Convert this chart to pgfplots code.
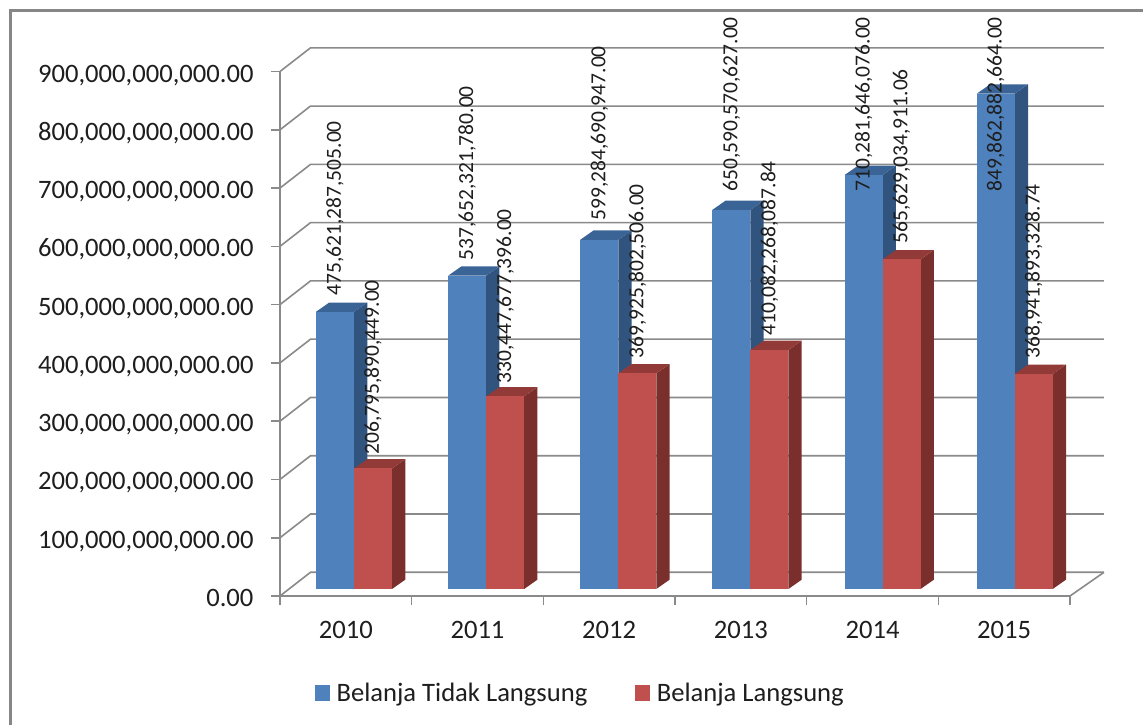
\documentclass[border=0pt]{standalone}
\usepackage{fontspec}
\setmainfont{Carlito}
\usepackage{pgfplots}
\usepackage{pgfplotstable}
\pgfplotsset{compat=1.18}

\definecolor{rulegray}{HTML}{8A8A8A}
\definecolor{framegray}{HTML}{868686}
\definecolor{blueF}{HTML}{4F81BD}
\definecolor{blueS}{HTML}{31547F}
\definecolor{blueT}{HTML}{3A6396}
\definecolor{redF}{HTML}{C0504D}
\definecolor{redS}{HTML}{7A2F2D}
\definecolor{redT}{HTML}{923A38}
\definecolor{ink}{HTML}{1E1E1E}

% Data labels: anchor x, anchor y (billions), text
\pgfplotstableread{
x      y      label
0.4177 513.0  475,621,287,505.00
1.4213 573.1  537,652,321,780.00
2.4249 641.7  599,284,690,947.00
3.4285 691.5  650,590,570,627.00
4.4321 691.5  710,281,646,076.00
5.4357 691.5  849,862,882,664.00
0.7063 240.2  206,795,890,449.00
1.7099 362.0  330,447,677,396.00
2.7135 404.9  369,925,802,506.00
3.7171 444.4  410,082,268,087.84
4.7207 602.3  565,629,034,911.06
5.7243 404.9  368,941,893,328.74
}\labeltable

% One 3D column: left x, value (billions), front, top and side colours
\newcommand{\columnthree}[5]{%
  \pgfmathsetmacro{\xr}{#1+0.2886}%
  \pgfmathsetmacro{\xlb}{#1+0.1010}%
  \pgfmathsetmacro{\xrb}{\xr+0.1010}%
  \pgfmathsetmacro{\yf}{#2+12}%
  \pgfmathsetmacro{\yb}{#2+28}%
  \addplot[fill=#5,draw=none,forget plot] coordinates {(\xr,12) (\xrb,28) (\xrb,\yb) (\xr,\yf)} --cycle;
  \addplot[fill=#4,draw=none,forget plot] coordinates {(#1,\yf) (\xr,\yf) (\xrb,\yb) (\xlb,\yb)} --cycle;
  \addplot[fill=#3,draw=none,forget plot] coordinates {(#1,12) (\xr,12) (\xr,\yf) (#1,\yf)} --cycle;
}

\begin{document}
\begin{tikzpicture}[x=1pt,y=1pt]
  \useasboundingbox (0,0) rectangle (1143,725);
  \fill[white] (0,0) rectangle (1143,725);
  % Outer chart frame: only the top and left edges remain visible
  \draw[framegray,line width=2.6pt] (10.7,0) -- (10.7,714.3) -- (1143,714.3);

  \begin{axis}[
    at={(280pt,129pt)}, anchor=south west,
    scale only axis, width=790pt, height=524.5pt,
    xmin=0, xmax=6, ymin=0, ymax=900,
    clip=false,
    axis x line*=bottom, axis y line*=left,
    axis line style={draw=rulegray,line width=1.6pt},
    tick style={draw=rulegray,line width=1.6pt},
    major tick length=9pt, tick align=outside,
    xtick={0,...,6},
    xticklabels={2010,2011,2012,2013,2014,2015},
    x tick label as interval,
    ytick={0,100,...,900},
    yticklabels={0.00,{100,000,000,000.00},{200,000,000,000.00},{300,000,000,000.00},{400,000,000,000.00},{500,000,000,000.00},{600,000,000,000.00},{700,000,000,000.00},{800,000,000,000.00},{900,000,000,000.00}},
    tick label style={font=\fontsize{26.6}{30}\selectfont,text=ink},
    y tick label style={xshift=-14pt,yshift=-2pt,text height=17pt,text depth=0pt},
    x tick label style={yshift=-13pt},
    legend style={at={(0.0443,-0.185)},anchor=west,draw=none,fill=none,
      font=\fontsize{26.6}{30}\selectfont,text=ink,legend columns=2,
      inner sep=0pt,
      /tikz/every odd column/.append style={column sep=5pt},
      /tikz/every even column/.append style={column sep=46pt}},
    legend image code/.code={\fill[#1] (0pt,-7.5pt) rectangle (14pt,7.5pt);},
  ]
    % Side wall and back wall rules at each value step
    \pgfplotsinvokeforeach{0,100,...,900}{%
      \pgfmathsetmacro{\yy}{#1+40.67}%
      \addplot[rulegray,line width=1.6pt,forget plot] coordinates {(0,#1) (0.2316,\yy) (6.258,\yy)};
    }
    \addplot[rulegray,line width=1.6pt,forget plot] coordinates {(6,0) (6.258,40.67)};

    % Columns, left to right
    \columnthree{0.2734}{475.621}{blueF}{blueT}{blueS}
    \columnthree{0.5620}{206.796}{redF}{redT}{redS}
    \columnthree{1.2770}{537.652}{blueF}{blueT}{blueS}
    \columnthree{1.5656}{330.448}{redF}{redT}{redS}
    \columnthree{2.2806}{599.285}{blueF}{blueT}{blueS}
    \columnthree{2.5692}{369.926}{redF}{redT}{redS}
    \columnthree{3.2842}{650.591}{blueF}{blueT}{blueS}
    \columnthree{3.5728}{410.082}{redF}{redT}{redS}
    \columnthree{4.2878}{710.282}{blueF}{blueT}{blueS}
    \columnthree{4.5764}{565.629}{redF}{redT}{redS}
    \columnthree{5.2914}{849.863}{blueF}{blueT}{blueS}
    \columnthree{5.5800}{368.942}{redF}{redT}{redS}

    % Rotated data labels
    \addplot[draw=none,forget plot,
      nodes near coords,
      point meta=explicit symbolic,
      every node near coord/.append style={rotate=90,anchor=west,inner sep=0pt,
        xshift=1.5pt,text=ink,font=\fontsize{21.5}{24}\selectfont}]
      table[x=x,y=y,meta=label] {\labeltable};

    \addlegendimage{blueF}
    \addlegendentry{Belanja Tidak Langsung}
    \addlegendimage{redF}
    \addlegendentry{Belanja Langsung}
  \end{axis}
\end{tikzpicture}
\end{document}
